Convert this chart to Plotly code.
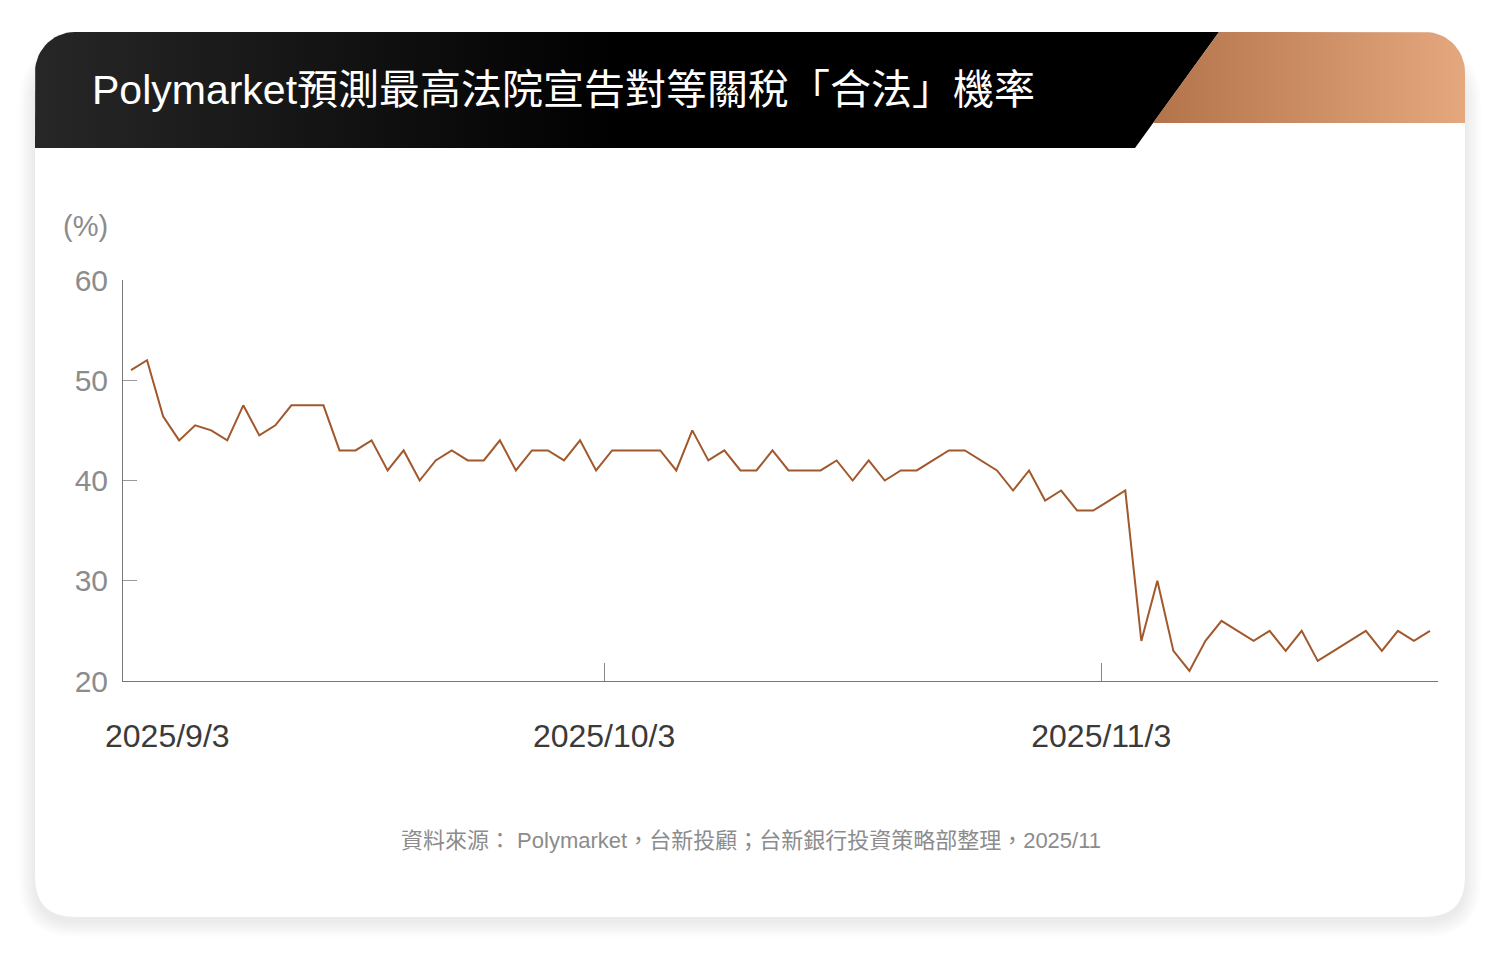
import numpy as np
import pandas as pd
import plotly.graph_objects as go

# daily probability (%) from 2025/9/3 to 2025/11/23
start_date = "2025-09-03"
prob = [51, 52, 46.4, 44, 45.5, 45, 44, 47.5, 44.5, 45.5,
        47.5, 47.5, 47.5, 43, 43, 44, 41, 43, 40, 42,
        43, 42, 42, 44, 41, 43, 43, 42, 44, 41,
        43, 43, 43, 43, 41, 45, 42, 43, 41, 41,
        43, 41, 41, 41, 42, 40, 42, 40, 41, 41,
        42, 43, 43, 42, 41, 39, 41, 38, 39, 37,
        37, 38, 39, 24, 30, 23, 21, 24, 26, 25,
        24, 25, 23, 25, 22, 23, 24, 25, 23, 25,
        24, 25]
dates = pd.date_range(start_date, periods=len(prob), freq="D")

y_ticks = [20, 30, 40, 50, 60]
x_tick_labels = ["2025/9/3", "2025/10/3", "2025/11/3"]

title = "Polymarket預測最高法院宣告對等關稅「合法」機率"
source = "資料來源： Polymarket，台新投顧；台新銀行投資策略部整理，2025/11"

# page body has an 8px margin, so the figure is 16px smaller than the window
OFF = 8
W, H = 1500 - 2 * OFF, 957 - 2 * OFF
FONT = "Liberation Sans, Noto Sans CJK TC, sans-serif"
LINE_COLOR = "#A0582C"


def fx(x):
    return (x - OFF) / W


def fy(y):
    return 1 - (y - OFF) / H


def rrect(x0, y0, x1, y1, r):
    # rounded rectangle as svg path in paper coords
    p = [
        ("M", x0 + r, y0), ("L", x1 - r, y0), ("Q", x1, y0, x1, y0 + r),
        ("L", x1, y1 - r), ("Q", x1, y1, x1 - r, y1),
        ("L", x0 + r, y1), ("Q", x0, y1, x0, y1 - r),
        ("L", x0, y0 + r), ("Q", x0, y0, x0 + r, y0),
    ]
    out = ""
    for seg in p:
        pts = seg[1:]
        coords = [f"{fx(pts[i]):.5f},{fy(pts[i + 1]):.5f}" for i in range(0, len(pts), 2)]
        out += seg[0] + " " + " ".join(coords) + " "
    return out + "Z"


def arc(cx, cy, r, a0, a1, n=16):
    t = np.linspace(a0, a1, n)
    return list(cx + r * np.cos(t)), list(cy + r * np.sin(t))


# card geometry (screen pixels)
CX0, CY0, CX1, CY1, R = 35, 32, 1465, 917, 40

fig = go.Figure()

# header bands drawn on a pixel-coordinate helper axis
ax, ay = arc(CX0 + R, CY0 + R, R, np.pi, 1.5 * np.pi)
hx = [CX0] + ax + [1219, 1135, CX0]
hy = [148] + ay + [CY0, 148, 148]
fig.add_trace(go.Scatter(
    x=hx, y=hy, xaxis="x2", yaxis="y2", mode="lines", fill="toself",
    line=dict(width=0), hoverinfo="skip", showlegend=False,
    fillgradient=dict(type="horizontal", start=CX0, stop=620,
                      colorscale=[[0, "#272727"], [1, "#000000"]]),
))

bx, by = arc(CX1 - R, CY0 + R, R, 1.5 * np.pi, 2 * np.pi)
cx = [1219] + bx + [CX1, 1153, 1219]
cy = [CY0] + by + [123, 123, CY0]
fig.add_trace(go.Scatter(
    x=cx, y=cy, xaxis="x2", yaxis="y2", mode="lines", fill="toself",
    line=dict(width=0), hoverinfo="skip", showlegend=False,
    fillgradient=dict(type="horizontal", start=1150, stop=CX1,
                      colorscale=[[0, "#B3734A"], [1, "#E4A77E"]]),
))

# the series
fig.add_trace(go.Scatter(
    x=dates, y=prob, mode="lines",
    line=dict(color=LINE_COLOR, width=2),
    showlegend=False,
))

# soft card shadow + white card
shapes = []
for i in range(10, 0, -1):
    shapes.append(dict(
        type="path", xref="paper", yref="paper", layer="below",
        path=rrect(CX0 - i * 1.6, CY0 + 30 - i * 1.6, CX1 + i * 1.6, CY1 + 4 + i * 1.6, R + i * 1.6),
        fillcolor="rgba(0,0,0,0.009)", line=dict(width=0),
    ))
shapes.append(dict(
    type="path", xref="paper", yref="paper", layer="below",
    path=rrect(CX0, CY0, CX1, CY1, R),
    fillcolor="white", line=dict(width=0),
))

half_day = pd.Timedelta(hours=12)
x_start = dates[0] - half_day
x_end = dates[-1] + half_day
tick_pos = [pd.Timestamp("2025-10-03") - half_day, pd.Timestamp("2025-11-03") - half_day]

fig.update_layout(
    width=W, height=H,
    margin=dict(l=0, r=0, t=0, b=0, autoexpand=False),
    paper_bgcolor="white", plot_bgcolor="rgba(0,0,0,0)",
    font=dict(family=FONT),
    shapes=shapes,
    title=dict(text=title, x=fx(92), y=fy(90), xref="paper", yref="paper",
               xanchor="left", yanchor="middle", automargin=False,
               font=dict(size=41, color="white", family=FONT)),
    xaxis=dict(
        domain=[fx(123), fx(1438)], range=[x_start, x_end], type="date",
        showgrid=False, zeroline=False, showline=True, linecolor="#777777", linewidth=1,
        ticks="inside", ticklen=18, tickcolor="#888888", tickwidth=1,
        tickvals=tick_pos, ticktext=x_tick_labels[1:],
        tickfont=dict(size=32, color="#3a3a3a"), ticklabelstandoff=27,
        automargin=False, fixedrange=True,
    ),
    yaxis=dict(
        domain=[fy(681), fy(280)], range=[20, 60],
        showgrid=False, zeroline=False, showline=True, linecolor="#777777", linewidth=1,
        ticks="inside", ticklen=14, tickcolor="#999999", tickwidth=1,
        tickvals=y_ticks, tickfont=dict(size=30, color="#8c8c8c"), ticklabelstandoff=8,
        automargin=False, fixedrange=True,
    ),
    xaxis2=dict(domain=[0, 1], range=[OFF, OFF + W], visible=False, anchor="y2",
                automargin=False, fixedrange=True),
    yaxis2=dict(domain=[0, 1], range=[OFF + H, OFF], visible=False, anchor="x2",
                automargin=False, fixedrange=True),
    annotations=[
        dict(text="(%)", x=fx(85), y=fy(226), xref="paper", yref="paper",
             xanchor="center", yanchor="middle",
             showarrow=False, font=dict(size=29, color="#8c8c8c")),
        dict(text=x_tick_labels[0], x=x_start, xref="x", y=fy(736), yref="paper",
             xanchor="left", yanchor="middle", xshift=-20, showarrow=False,
             font=dict(size=32, color="#3a3a3a")),
        dict(text=source, x=fx(751), y=fy(840), xref="paper", yref="paper",
             xanchor="center", yanchor="middle",
             showarrow=False, font=dict(size=22, color="#8c8c8c")),
    ],
)

fig.write_html("out.html")
